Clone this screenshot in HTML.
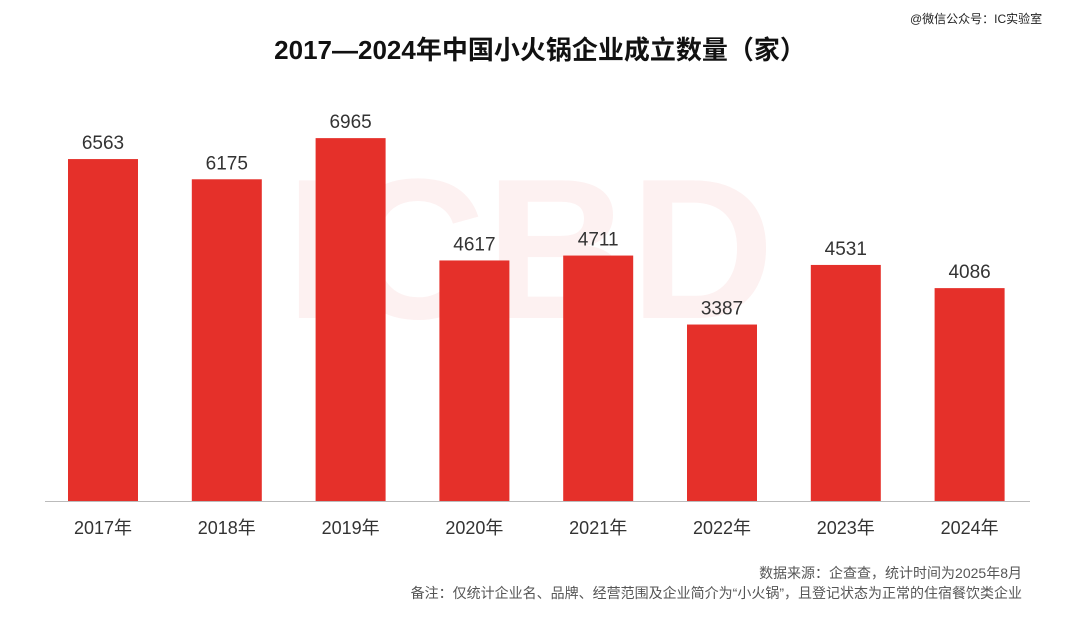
<!DOCTYPE html>
<html><head><meta charset="utf-8">
<style>
body{margin:0;background:#fff;width:1080px;height:641px;overflow:hidden;font-family:"Liberation Sans","Noto Sans CJK SC",sans-serif;}
#wrap{position:relative;width:1080px;height:641px;}
.t{position:absolute;white-space:nowrap;}
</style></head>
<body>
<div id="wrap">
<div class="t" style="left:910px;top:10px;font-size:12px;color:#222;">@微信公众号：IC实验室</div>
<div class="t" style="left:0;width:1080px;text-align:center;top:30px;font-size:26px;font-weight:bold;color:#111;">2017—2024年中国小火锅企业成立数量（家）</div>
<svg id="chart" width="1080" height="641" style="position:absolute;left:0;top:0">
<text x="530" y="318" font-size="200" font-weight="bold" fill="#fdf1f1" text-anchor="middle" font-family="Liberation Sans">ICBD</text>
</svg>
<div class="t" style="right:58px;top:563px;font-size:14px;color:#555;">数据来源：企查查，统计时间为2025年8月</div>
<div class="t" style="right:58px;top:583px;font-size:14px;color:#555;">备注：仅统计企业名、品牌、经营范围及企业简介为“小火锅”，且登记状态为正常的住宿餐饮类企业</div>
</div>
<script>
const categories=["2017年","2018年","2019年","2020年","2021年","2022年","2023年","2024年"];
const values=[6563,6175,6965,4617,4711,3387,4531,4086];
const svg=document.getElementById('chart');
const NS="http://www.w3.org/2000/svg";
const baseY=501, scale=0.0521, x0=68, step=123.8, bw=70;
function yOf(v){return baseY-v*scale;}
function xOf(i){return x0+i*step;}
const axis=document.createElementNS(NS,'line');
axis.setAttribute('x1',45);axis.setAttribute('x2',1030);axis.setAttribute('y1',baseY+0.5);axis.setAttribute('y2',baseY+0.5);
axis.setAttribute('stroke','#bbb');axis.setAttribute('stroke-width',1);


svg.appendChild(axis);
values.forEach((v,i)=>{
  const r=document.createElementNS(NS,'rect');
  r.setAttribute('x',xOf(i));r.setAttribute('y',yOf(v));r.setAttribute('width',bw);r.setAttribute('height',baseY-yOf(v));
  r.setAttribute('fill','#e5302a');
  
  
  svg.appendChild(r);
  const t=document.createElementNS(NS,'text');
  t.setAttribute('x',xOf(i)+bw/2);t.setAttribute('y',yOf(v)-10);t.setAttribute('text-anchor','middle');
  t.setAttribute('font-size','19');t.setAttribute('fill','#333');t.setAttribute('font-family','Liberation Sans');
  t.textContent=v;
  
  
  svg.appendChild(t);
  const c=document.createElementNS(NS,'text');
  c.setAttribute('x',xOf(i)+bw/2);c.setAttribute('y',534);c.setAttribute('text-anchor','middle');
  c.setAttribute('font-size','18');c.setAttribute('fill','#333');c.setAttribute('font-family','Liberation Sans, Noto Sans CJK SC, sans-serif');
  c.textContent=categories[i];
  
  
  svg.appendChild(c);
});
</script>
</body></html>
